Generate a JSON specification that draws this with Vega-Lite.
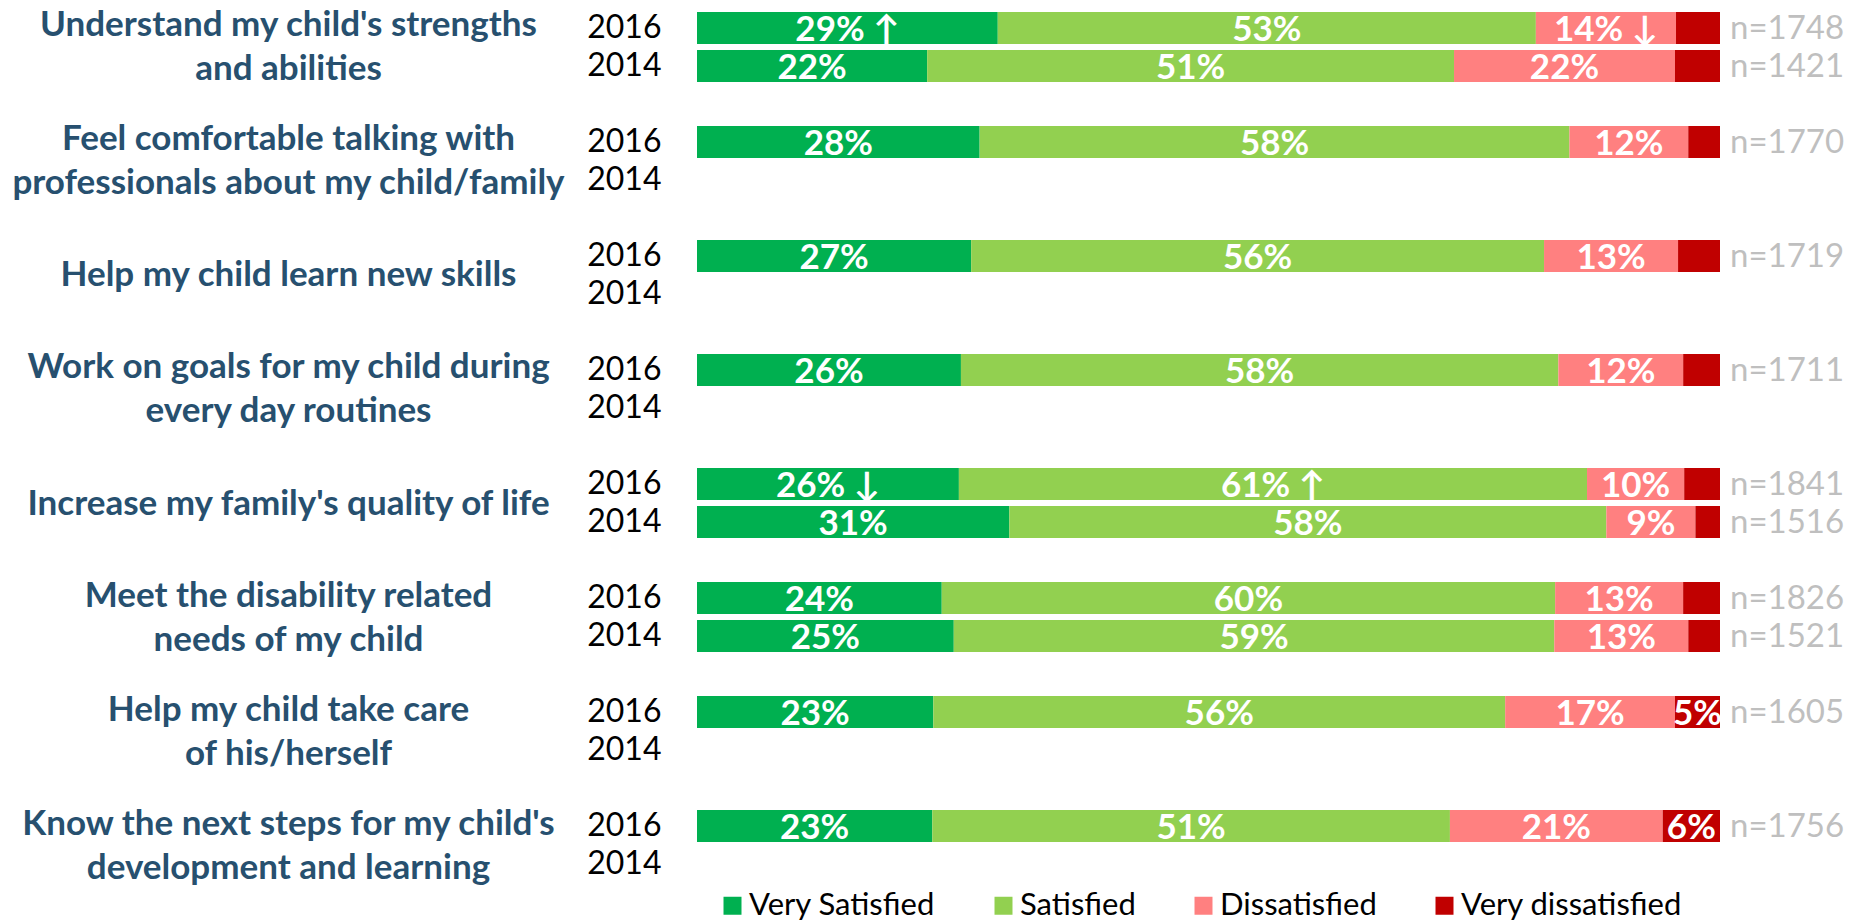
{
  "$schema": "https://vega.github.io/schema/vega-lite/v6.json",
  "width": 1023,
  "height": 874,
  "autosize": {"type": "none"},
  "padding": {"left": 697, "top": 9, "right": 142, "bottom": 37},
  "background": "white",
  "config": {"view": {"stroke": null}, "font": "Lato"},
  "datasets": {
    "segments": [
      {"slot": "1|2016", "category": "Very Satisfied", "rank": 1, "value": 29.4, "label": "29% ↑"},
      {"slot": "1|2016", "category": "Satisfied", "rank": 2, "value": 52.6, "label": "53%"},
      {"slot": "1|2016", "category": "Dissatisfied", "rank": 3, "value": 13.7, "label": "14% ↓"},
      {"slot": "1|2016", "category": "Very dissatisfied", "rank": 4, "value": 4.3, "label": ""},
      {"slot": "1|2014", "category": "Very Satisfied", "rank": 1, "value": 22.5, "label": "22%"},
      {"slot": "1|2014", "category": "Satisfied", "rank": 2, "value": 51.5, "label": "51%"},
      {"slot": "1|2014", "category": "Dissatisfied", "rank": 3, "value": 21.6, "label": "22%"},
      {"slot": "1|2014", "category": "Very dissatisfied", "rank": 4, "value": 4.4, "label": ""},
      {"slot": "2|2016", "category": "Very Satisfied", "rank": 1, "value": 27.6, "label": "28%"},
      {"slot": "2|2016", "category": "Satisfied", "rank": 2, "value": 57.6, "label": "58%"},
      {"slot": "2|2016", "category": "Dissatisfied", "rank": 3, "value": 11.6, "label": "12%"},
      {"slot": "2|2016", "category": "Very dissatisfied", "rank": 4, "value": 3.1, "label": ""},
      {"slot": "3|2016", "category": "Very Satisfied", "rank": 1, "value": 26.8, "label": "27%"},
      {"slot": "3|2016", "category": "Satisfied", "rank": 2, "value": 56.0, "label": "56%"},
      {"slot": "3|2016", "category": "Dissatisfied", "rank": 3, "value": 13.1, "label": "13%"},
      {"slot": "3|2016", "category": "Very dissatisfied", "rank": 4, "value": 4.1, "label": ""},
      {"slot": "4|2016", "category": "Very Satisfied", "rank": 1, "value": 25.8, "label": "26%"},
      {"slot": "4|2016", "category": "Satisfied", "rank": 2, "value": 58.4, "label": "58%"},
      {"slot": "4|2016", "category": "Dissatisfied", "rank": 3, "value": 12.2, "label": "12%"},
      {"slot": "4|2016", "category": "Very dissatisfied", "rank": 4, "value": 3.6, "label": ""},
      {"slot": "5|2016", "category": "Very Satisfied", "rank": 1, "value": 25.6, "label": "26% ↓"},
      {"slot": "5|2016", "category": "Satisfied", "rank": 2, "value": 61.4, "label": "61% ↑"},
      {"slot": "5|2016", "category": "Dissatisfied", "rank": 3, "value": 9.5, "label": "10%"},
      {"slot": "5|2016", "category": "Very dissatisfied", "rank": 4, "value": 3.5, "label": ""},
      {"slot": "5|2014", "category": "Very Satisfied", "rank": 1, "value": 30.5, "label": "31%"},
      {"slot": "5|2014", "category": "Satisfied", "rank": 2, "value": 58.3, "label": "58%"},
      {"slot": "5|2014", "category": "Dissatisfied", "rank": 3, "value": 8.7, "label": "9%"},
      {"slot": "5|2014", "category": "Very dissatisfied", "rank": 4, "value": 2.4, "label": ""},
      {"slot": "6|2016", "category": "Very Satisfied", "rank": 1, "value": 23.9, "label": "24%"},
      {"slot": "6|2016", "category": "Satisfied", "rank": 2, "value": 59.9, "label": "60%"},
      {"slot": "6|2016", "category": "Dissatisfied", "rank": 3, "value": 12.5, "label": "13%"},
      {"slot": "6|2016", "category": "Very dissatisfied", "rank": 4, "value": 3.6, "label": ""},
      {"slot": "6|2014", "category": "Very Satisfied", "rank": 1, "value": 25.1, "label": "25%"},
      {"slot": "6|2014", "category": "Satisfied", "rank": 2, "value": 58.7, "label": "59%"},
      {"slot": "6|2014", "category": "Dissatisfied", "rank": 3, "value": 13.1, "label": "13%"},
      {"slot": "6|2014", "category": "Very dissatisfied", "rank": 4, "value": 3.1, "label": ""},
      {"slot": "7|2016", "category": "Very Satisfied", "rank": 1, "value": 23.1, "label": "23%"},
      {"slot": "7|2016", "category": "Satisfied", "rank": 2, "value": 55.9, "label": "56%"},
      {"slot": "7|2016", "category": "Dissatisfied", "rank": 3, "value": 16.6, "label": "17%"},
      {"slot": "7|2016", "category": "Very dissatisfied", "rank": 4, "value": 4.4, "label": "5%"},
      {"slot": "8|2016", "category": "Very Satisfied", "rank": 1, "value": 23.0, "label": "23%"},
      {"slot": "8|2016", "category": "Satisfied", "rank": 2, "value": 50.6, "label": "51%"},
      {"slot": "8|2016", "category": "Dissatisfied", "rank": 3, "value": 20.8, "label": "21%"},
      {"slot": "8|2016", "category": "Very dissatisfied", "rank": 4, "value": 5.6, "label": "6%"}
    ],
    "bars": [
      {"slot": "1|2016", "n": "n=1748"},
      {"slot": "1|2014", "n": "n=1421"},
      {"slot": "2|2016", "n": "n=1770"},
      {"slot": "3|2016", "n": "n=1719"},
      {"slot": "4|2016", "n": "n=1711"},
      {"slot": "5|2016", "n": "n=1841"},
      {"slot": "5|2014", "n": "n=1516"},
      {"slot": "6|2016", "n": "n=1826"},
      {"slot": "6|2014", "n": "n=1521"},
      {"slot": "7|2016", "n": "n=1605"},
      {"slot": "8|2016", "n": "n=1756"}
    ],
    "questions": [
      {"question": "Understand my child's strengths\nand abilities"},
      {"question": "Feel comfortable talking with\nprofessionals about my child/family"},
      {"question": "Help my child learn new skills"},
      {"question": "Work on goals for my child during\nevery day routines"},
      {"question": "Increase my family's quality of life"},
      {"question": "Meet the disability related\nneeds of my child"},
      {"question": "Help my child take care\nof his/herself"},
      {"question": "Know the next steps for my child's\ndevelopment and learning"}
    ]
  },
  "layer": [
    {
      "encoding": {
        "y": {
          "field": "slot",
          "type": "nominal",
          "scale": {
            "domain": ["1|2016", "1|2014", "1|", "2|2016", "2|2014", "2|", "3|2016", "3|2014", "3|", "4|2016", "4|2014", "4|", "5|2016", "5|2014", "5|", "6|2016", "6|2014", "6|", "7|2016", "7|2014", "7|", "8|2016", "8|2014"],
            "paddingInner": 0.158,
            "paddingOuter": 0.079
          },
          "axis": {
            "title": null,
            "orient": "left",
            "ticks": false,
            "tickSize": 0,
            "domain": false,
            "grid": false,
            "labelPadding": 36,
            "labelAlign": "right",
            "labelBaseline": "middle",
            "labelFont": "Lato",
            "labelFontSize": 32,
            "labelColor": "#000000",
            "labelLimit": 0,
            "labelExpr": "split(datum.label, '|')[1]"
          }
        }
      },
      "layer": [
        {
          "data": {"name": "segments"},
          "mark": {"type": "bar"},
          "encoding": {
            "x": {"field": "value", "type": "quantitative", "stack": "normalize", "axis": null},
            "color": {
              "field": "category",
              "type": "nominal",
              "scale": {
                "domain": ["Very Satisfied", "Satisfied", "Dissatisfied", "Very dissatisfied"],
                "range": ["#00B050", "#92D050", "#FF8080", "#C00000"]
              },
              "legend": {
                "title": null,
                "orient": "none",
                "legendX": 20,
                "legendY": 881,
                "direction": "horizontal",
                "columns": 4,
                "padding": 0,
                "symbolType": "square",
                "symbolSize": 324,
                "symbolStrokeWidth": 0,
                "symbolOpacity": 1,
                "labelFont": "Lato",
                "labelFontSize": 31,
                "labelColor": "#000000",
                "labelOffset": 1,
                "labelLimit": 0,
                "columnPadding": 52
              }
            },
            "order": {"field": "rank", "type": "quantitative"}
          }
        },
        {
          "data": {"name": "segments"},
          "mark": {"type": "text", "fill": "white", "font": "Lato", "fontWeight": "bold", "fontSize": 35, "baseline": "middle", "align": "center", "dy": 2},
          "encoding": {
            "x": {"field": "value", "type": "quantitative", "stack": "normalize", "bandPosition": 0.5},
            "detail": {"field": "category", "type": "nominal"},
            "order": {"field": "rank", "type": "quantitative"},
            "text": {"field": "label", "type": "nominal"}
          }
        },
        {
          "data": {"name": "bars"},
          "mark": {"type": "text", "fill": "#BFBFBF", "font": "Lato", "fontSize": 33, "baseline": "middle", "align": "left", "dx": 10, "dy": 1},
          "encoding": {
            "x": {"datum": 1, "type": "quantitative"},
            "text": {"field": "n", "type": "nominal"}
          }
        }
      ]
    },
    {
      "data": {"name": "questions"},
      "mark": {"type": "point", "opacity": 0},
      "encoding": {
        "y": {
          "field": "question",
          "type": "nominal",
          "sort": null,
          "scale": {"type": "point", "padding": 0.3333},
          "axis": {
            "title": null,
            "orient": "left",
            "ticks": false,
            "tickSize": 0,
            "domain": false,
            "grid": false,
            "labelPadding": 409,
            "labelAlign": "center",
            "labelBaseline": "middle",
            "labelFont": "Lato",
            "labelFontWeight": "bold",
            "labelFontSize": 35,
            "labelColor": "#27506F",
            "labelLineHeight": 44,
            "labelLimit": 0,
            "labelOverlap": false,
            "labelOffset": {"condition": {"test": "indexof(datum.label, '\\n') >= 0", "value": -22}, "value": 0},
            "labelExpr": "split(datum.label, '\\n')"
          }
        }
      }
    }
  ],
  "resolve": {"scale": {"y": "independent"}}
}
